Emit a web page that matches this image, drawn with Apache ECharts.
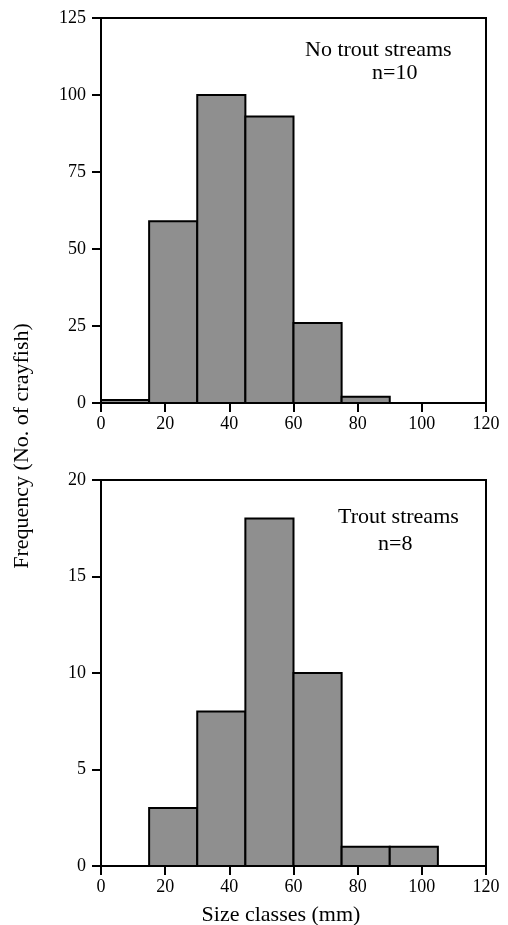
<!DOCTYPE html>
<html>
<head>
<meta charset="utf-8">
<script src="https://cdn.jsdelivr.net/npm/echarts@6/dist/echarts.min.js"></script>
<style>
html,body{margin:0;padding:0;background:#fff;}
#chart{width:508px;height:925px;}
</style>
</head>
<body>
<div id="chart"></div>
<script>
// Size class bin edges (mm)
const binEdges = [0, 15, 30, 45, 60, 75, 90, 105, 120];
// Frequencies per size class
const noTroutCounts = [1, 59, 100, 93, 26, 2, 0, 0];
const troutCounts = [0, 3, 8, 18, 10, 1, 1, 0];
// Axis ticks
const xTicks = [0, 20, 40, 60, 80, 100, 120];
const yTicksTop = [0, 25, 50, 75, 100, 125];
const yTicksBottom = [0, 5, 10, 15, 20];
// Texts
const topLabel = ['No trout streams', 'n=10'];
const bottomLabel = ['Trout streams', 'n=8'];
const yTitle = 'Frequency (No. of crayfish)';
const xTitle = 'Size classes (mm)';

const FONT = 'Liberation Serif';

function toBins(counts) {
  return counts.map((c, i) => [binEdges[i], binEdges[i + 1], c]);
}

function renderBar(params, api) {
  const v = api.value(2);
  if (!v) return null;
  const p0 = api.coord([api.value(0), v]);
  const p1 = api.coord([api.value(1), 0]);
  return {
    type: 'rect',
    shape: { x: p0[0], y: p0[1], width: p1[0] - p0[0], height: p1[1] - p0[1] },
    style: { fill: '#8f8f8f', stroke: '#000', lineWidth: 2 }
  };
}

function xAxisCfg(gridIndex) {
  return {
    type: 'value', gridIndex: gridIndex,
    min: xTicks[0], max: xTicks[xTicks.length - 1], interval: xTicks[1] - xTicks[0],
    splitLine: { show: false },
    axisLine: { show: true, onZero: false, lineStyle: { color: '#000', width: 2 } },
    axisTick: { show: true, inside: false, length: 9, lineStyle: { color: '#000', width: 2 } },
    axisLabel: { color: '#000', fontFamily: FONT, fontSize: 18, margin: 12 }
  };
}
function yAxisCfg(gridIndex, ticks) {
  return {
    type: 'value', gridIndex: gridIndex,
    min: ticks[0], max: ticks[ticks.length - 1], interval: ticks[1] - ticks[0],
    splitLine: { show: false },
    axisLine: { show: true, lineStyle: { color: '#000', width: 2 } },
    axisTick: { show: true, inside: false, length: 9, lineStyle: { color: '#000', width: 2 } },
    axisLabel: { color: '#000', fontFamily: FONT, fontSize: 18, margin: 15 }
  };
}

const chart = echarts.init(document.getElementById('chart'), null, { renderer: 'canvas' });
chart.setOption({
  animation: false,
  backgroundColor: '#fff',
  grid: [
    { left: 101, top: 18, width: 385, height: 385, show: true, borderColor: '#000', borderWidth: 2, backgroundColor: 'transparent' },
    { left: 101, top: 480, width: 385, height: 386, show: true, borderColor: '#000', borderWidth: 2, backgroundColor: 'transparent' }
  ],
  xAxis: [xAxisCfg(0), xAxisCfg(1)],
  yAxis: [yAxisCfg(0, yTicksTop), yAxisCfg(1, yTicksBottom)],
  series: [
    { type: 'custom', xAxisIndex: 0, yAxisIndex: 0, renderItem: renderBar, encode: { x: [0, 1], y: 2 }, data: toBins(noTroutCounts), z: 1 },
    { type: 'custom', xAxisIndex: 1, yAxisIndex: 1, renderItem: renderBar, encode: { x: [0, 1], y: 2 }, data: toBins(troutCounts), z: 1 }
  ],
  graphic: [
    { type: 'text', left: 305, top: 39, style: { text: topLabel[0], font: '22px "' + FONT + '"', fill: '#000' } },
    { type: 'text', left: 372, top: 62, style: { text: topLabel[1], font: '22px "' + FONT + '"', fill: '#000' } },
    { type: 'text', left: 338, top: 506, style: { text: bottomLabel[0], font: '22px "' + FONT + '"', fill: '#000' } },
    { type: 'text', left: 378, top: 533, style: { text: bottomLabel[1], font: '22px "' + FONT + '"', fill: '#000' } },
    { type: 'text', x: 22, y: 446, rotation: Math.PI / 2, style: { text: yTitle, font: '22px "' + FONT + '"', fill: '#000', align: 'center', verticalAlign: 'middle' } },
    { type: 'text', x: 281, y: 904, style: { text: xTitle, font: '22px "' + FONT + '"', fill: '#000', align: 'center', verticalAlign: 'top' } }
  ]
});
</script>
</body>
</html>
